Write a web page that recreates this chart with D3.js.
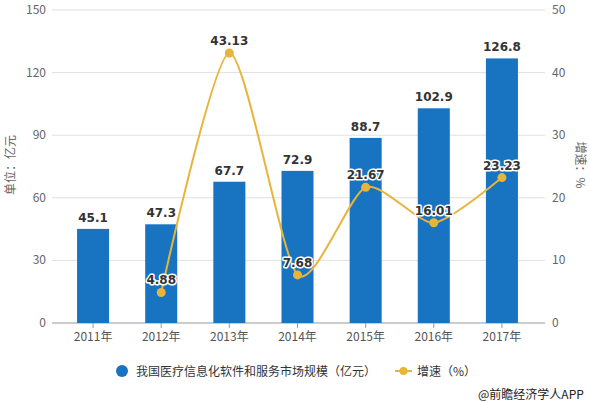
<!DOCTYPE html>
<meta charset="utf-8">
<script src="https://cdn.jsdelivr.net/npm/d3@7"></script>
<style>
body { margin: 0; background: #fff; }
text { font-family: "Noto Sans CJK SC", "Noto Sans", sans-serif; }
</style>
<body>
<script>

var years = ["2011年", "2012年", "2013年", "2014年", "2015年", "2016年", "2017年"]
var scale = [45.1, 47.3, 67.7, 72.9, 88.7, 102.9, 126.8]
var growth = [null, 4.88, 43.13, 7.68, 21.67, 16.01, 23.23]
var leftTicks = [0, 30, 60, 90, 120, 150]
var rightTicks = [0, 10, 20, 30, 40, 50]

var width = 590, height = 403

var x = d3.scaleBand().domain(years).range([59, 536]).paddingInner(0.53).paddingOuter(0.265)
var y = d3.scaleLinear().domain([0, 150]).range([323, 10])
var y2 = d3.scaleLinear().domain([0, 50]).range([323, 10])

var svg = d3.select("body").append("svg")
            .attr("width", width)
            .attr("height", height)

// grid
svg.append("g").selectAll("line").data(leftTicks.slice(1)).enter().append("line")
   .attr("x1", 52).attr("x2", 545)
   .attr("y1", function(d) { return y(d) }).attr("y2", function(d) { return y(d) })
   .attr("stroke", "#e0e0e0").attr("stroke-width", 1)

svg.append("line").attr("x1", 52).attr("x2", 545).attr("y1", y(0)).attr("y2", y(0))
   .attr("stroke", "#999")

// left axis labels
svg.append("g").selectAll("text").data(leftTicks).enter().append("text")
   .attr("x", 46).attr("y", function(d) { return y(d) + 4 })
   .attr("text-anchor", "end").attr("font-size", 12).attr("fill", "#666")
   .text(function(d) { return d })

svg.append("g").selectAll("text").data(rightTicks).enter().append("text")
   .attr("x", 552).attr("y", function(d) { return y2(d) + 4 })
   .attr("text-anchor", "start").attr("font-size", 12).attr("fill", "#666")
   .text(function(d) { return d })

svg.append("text")
   .attr("transform", "translate(15,165) rotate(-90)")
   .attr("text-anchor", "middle").attr("font-size", 12).attr("fill", "#666")
   .text("单位：亿元")

svg.append("text")
   .attr("transform", "translate(576,165) rotate(90)")
   .attr("text-anchor", "middle").attr("font-size", 12).attr("fill", "#666")
   .text("增速：%")

// bottom axis
var xa = svg.append("g")
   .attr("transform", "translate(0," + y(0) + ")")
   .call(d3.axisBottom(x).tickSize(5).tickPadding(4))
xa.select(".domain").remove()
xa.selectAll("line").attr("stroke", "#999")
xa.selectAll("text").attr("font-size", 12).attr("fill", "#555")
   .style("font-family", "'Noto Sans CJK SC', sans-serif")

// bars
svg.append("g").selectAll("rect").data(scale).enter().append("rect")
   .attr("x", function(d, i) { return x(years[i]) })
   .attr("y", function(d) { return y(d) })
   .attr("width", x.bandwidth())
   .attr("height", function(d) { return y(0) - y(d) })
   .attr("fill", "#1873c1")

svg.append("g").selectAll("text").data(scale).enter().append("text")
   .attr("x", function(d, i) { return x(years[i]) + x.bandwidth() / 2 })
   .attr("y", function(d) { return y(d) - 7 })
   .attr("text-anchor", "middle").attr("font-size", 12).attr("font-weight", "bold")
   .attr("fill", "#333")
   .style("font-family", "'DejaVu Sans', sans-serif")
   .text(function(d) { return d })

// growth line
var pts = growth.map(function(d, i) { return { yr: years[i], v: d } }).filter(function(d) { return d.v !== null })
var line = d3.line()
   .x(function(d) { return x(d.yr) + x.bandwidth() / 2 })
   .y(function(d) { return y2(d.v) })
   .curve(d3.curveCardinal.tension(0.3))

svg.append("path").attr("d", line(pts))
   .attr("fill", "none").attr("stroke", "#e7b53a").attr("stroke-width", 2)

svg.append("g").selectAll("circle").data(pts).enter().append("circle")
   .attr("cx", function(d) { return x(d.yr) + x.bandwidth() / 2 })
   .attr("cy", function(d) { return y2(d.v) })
   .attr("r", 4.5).attr("fill", "#e7b53a")

svg.append("g").selectAll("text").data(pts).enter().append("text")
   .attr("x", function(d) { return x(d.yr) + x.bandwidth() / 2 })
   .attr("y", function(d) { return y2(d.v) - 8 })
   .attr("text-anchor", "middle").attr("font-size", 12).attr("font-weight", "bold")
   .attr("fill", "#333").attr("stroke", "#fff").attr("stroke-width", 3)
   .attr("paint-order", "stroke").attr("stroke-linejoin", "round")
   .style("font-family", "'DejaVu Sans', sans-serif")
   .text(function(d) { return d.v.toFixed(2) })

// legend
var lg = svg.append("g").attr("transform", "translate(0,371)")
lg.append("circle").attr("cx", 122).attr("cy", 0).attr("r", 6).attr("fill", "#1873c1")
lg.append("text").attr("x", 136).attr("y", 5).attr("font-size", 12).attr("fill", "#333")
  .text("我国医疗信息化软件和服务市场规模（亿元）")
lg.append("line").attr("x1", 395).attr("x2", 412).attr("y1", 0).attr("y2", 0)
  .attr("stroke", "#e7b53a").attr("stroke-width", 2)
lg.append("circle").attr("cx", 403.5).attr("cy", 0).attr("r", 4).attr("fill", "#e7b53a")
lg.append("text").attr("x", 417).attr("y", 5).attr("font-size", 12).attr("fill", "#333")
  .text("增速（%）")

svg.append("text").attr("x", 478).attr("y", 399).attr("font-size", 12).attr("fill", "#222")
  .text("@前瞻经济学人APP")

</script>
</body>
